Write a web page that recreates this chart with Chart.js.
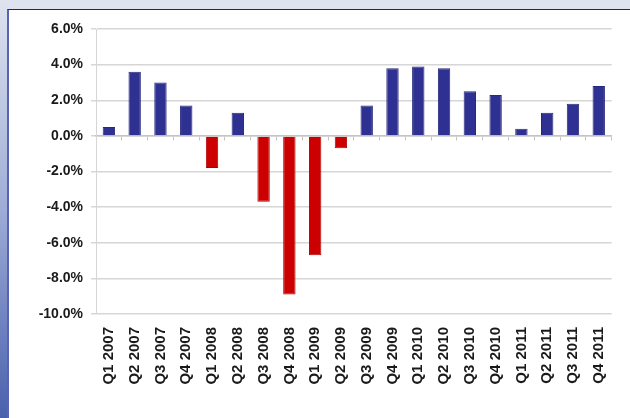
<!DOCTYPE html>
<html>
<head>
<meta charset="utf-8">
<script src="https://cdn.jsdelivr.net/npm/chart.js@4.4.1/dist/chart.umd.min.js"></script>
<style>
	html, body {
		margin: 0;
		padding: 0;
	}
	body {
		width: 630px;
		height: 418px;
		position: relative;
		overflow: hidden;
		background: #dfe3ef;
	}
	.edge {
		position: absolute;
		left: 0;
		top: 0;
		width: 8px;
		height: 418px;
		background: linear-gradient(to bottom, #dfe3ef 0%, #9eacd6 50%, #4a60ad 100%);
	}
	.panel {
		position: absolute;
		left: 7px;
		top: 9px;
		width: 623px;
		height: 409px;
		background: #fff;
		border-top: 1px solid #1c2677;
		border-left: 2px solid #5565b2;
		box-sizing: border-box;
	}
	#growth-chart {
		position: absolute;
		left: 0;
		top: 0;
	}
</style>
</head>
<body>
<div class="edge"></div>
<div class="panel"></div>
<canvas id="growth-chart" width="630" height="418"></canvas>
<script>
const quarters = [
	'Q1 2007', 'Q2 2007', 'Q3 2007', 'Q4 2007',
	'Q1 2008', 'Q2 2008', 'Q3 2008', 'Q4 2008',
	'Q1 2009', 'Q2 2009', 'Q3 2009', 'Q4 2009',
	'Q1 2010', 'Q2 2010', 'Q3 2010', 'Q4 2010',
	'Q1 2011', 'Q2 2011', 'Q3 2011', 'Q4 2011'
];
const growth = [
	0.5, 3.6, 3.0, 1.7,
	-1.8, 1.3, -3.7, -8.9,
	-6.7, -0.7, 1.7, 3.8,
	3.9, 3.8, 2.5, 2.3,
	0.4, 1.3, 1.8, 2.8
];
const yTicks = [6, 4, 2, 0, -2, -4, -6, -8, -10];

const up = '#2e3192',
	down = '#cc0000',
	gridColor = '#d6d6d6',
	labelFont = { family: '"Liberation Sans", Arial, sans-serif', weight: 'bold' };

const ctx = document.getElementById('growth-chart').getContext('2d');

new Chart(ctx, {
	type: 'bar',
	data: {
		labels: quarters,
		datasets: [{
			data: growth,
			backgroundColor: c => (c.raw < 0 ? down : up),
			borderColor: c => (c.raw < 0 ? '#b30000' : '#262a7e'),
			borderWidth: 1,
			barPercentage: 0.48,
			categoryPercentage: 1
		}]
	},
	options: {
		responsive: false,
		animation: false,
		layout: {
			padding: { top: 29, right: 10, left: 20, bottom: 0 }
		},
		plugins: {
			legend: { display: false },
			tooltip: { enabled: false }
		},
		scales: {
			x: {
				position: 'bottom',
				grid: { display: false, drawTicks: false },
				border: { display: false },
				ticks: {
					minRotation: 90,
					maxRotation: 90,
					autoSkip: false,
					padding: 13,
					color: '#1a1a1a',
					font: { ...labelFont, size: 15 }
				},
				afterFit: scale => {
					scale.height = 104;
				}
			},
			// zero line with small tick marks between quarters
			zero: {
				type: 'category',
				axis: 'x',
				position: { y: 0 },
				offset: true,
				grid: {
					drawOnChartArea: false,
					tickLength: 4,
					color: '#c4c4c4'
				},
				border: { color: '#c4c4c4', width: 1.5 },
				ticks: { display: false }
			},
			y: {
				min: -10,
				max: 6,
				afterBuildTicks: scale => {
					scale.ticks = yTicks.map(value => ({ value }));
				},
				grid: {
					color: gridColor,
					lineWidth: 1.5,
					tickLength: 5
				},
				border: { color: gridColor },
				ticks: {
					padding: 8,
					color: '#1a1a1a',
					font: { ...labelFont, size: 14 },
					callback: v => v.toFixed(1) + '%'
				},
				afterFit: scale => {
					scale.width = 76;
				}
			}
		}
	}
});
</script>
</body>
</html>
